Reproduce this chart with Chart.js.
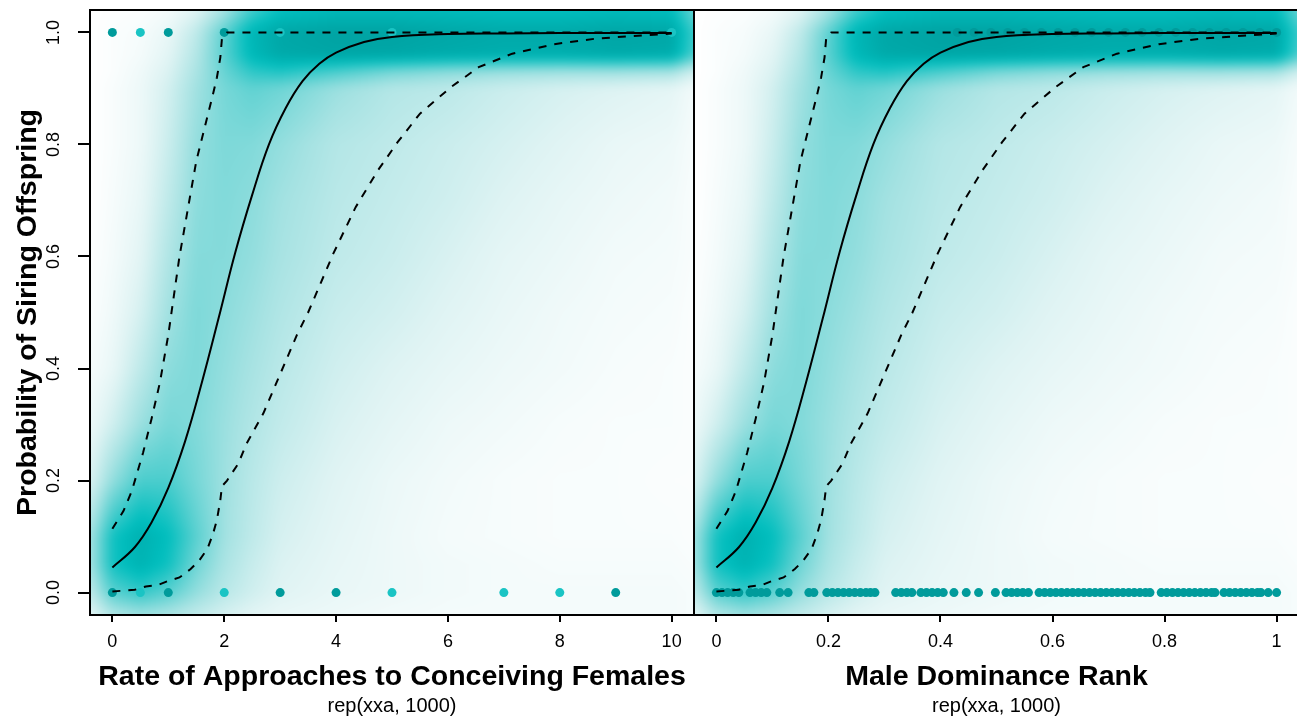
<!DOCTYPE html>
<html>
<head>
<meta charset="utf-8">
<script src="https://cdn.jsdelivr.net/npm/chart.js@4.4.0/dist/chart.umd.min.js"></script>
<style>
  html, body { margin: 0; padding: 0; background: #fff; overflow: hidden; width: 1297px; height: 717px; }
  canvas { position: absolute; top: 0; }
  #rateChart { left: 0; }
  #rankChart { left: 694px; }
</style>
</head>
<body>
<canvas id="rateChart" width="695" height="717"></canvas>
<canvas id="rankChart" width="605" height="717"></canvas>
<script>
// ---- axis ticks ----
const probTicks = [0, 0.2, 0.4, 0.6, 0.8, 1.0];
const probTickLabels = ['0.0', '0.2', '0.4', '0.6', '0.8', '1.0'];
const rateTicks = [0, 2, 4, 6, 8, 10];
const rateTickLabels = ['0', '2', '4', '6', '8', '10'];
const rankTicks = [0, 0.2, 0.4, 0.6, 0.8, 1];
const rankTickLabels = ['0', '0.2', '0.4', '0.6', '0.8', '1'];

// ---- observed males (sired = 1, not sired = 0), n = overlapping males ----
const rateSiredX = [0, 0.5, 1, 2, 3, 5, 10];
const rateSiredN = [2, 1, 2, 2, 1, 1, 1];
const rateNotSiredX = [0, 0.5, 1, 2, 3, 4, 5, 7, 8, 9];
const rateNotSiredN = [3, 1, 2, 1, 2, 2, 1, 1, 1, 2];

const rankSiredX = [0.43, 0.46, 0.49, 0.52, 0.55, 0.58, 0.61, 0.64, 0.67, 0.7, 0.73, 0.76, 0.79, 0.82, 0.85, 0.88, 0.91, 0.94, 0.97, 1.0];
const rankNotSiredX = [
  0, 0.01, 0.02, 0.03, 0.04, 0.06, 0.07, 0.08, 0.09, 0.113, 0.128, 0.165, 0.174,
  0.197, 0.207, 0.217, 0.227, 0.237, 0.247, 0.257, 0.267, 0.275, 0.283,
  0.32, 0.33, 0.34, 0.349, 0.365, 0.375, 0.385, 0.395, 0.405, 0.424, 0.446, 0.468, 0.498,
  0.517, 0.527, 0.537, 0.547, 0.557, 0.576, 0.586, 0.596, 0.606, 0.616, 0.626, 0.636, 0.646,
  0.656, 0.666, 0.676, 0.686, 0.696, 0.706, 0.716, 0.726, 0.736, 0.746, 0.756, 0.766, 0.774,
  0.794, 0.804, 0.814, 0.824, 0.834, 0.844, 0.854, 0.864, 0.874, 0.884, 0.89,
  0.906, 0.916, 0.926, 0.936, 0.946, 0.956, 0.966, 0.972, 0.985, 1.0
];

// ---- fitted curve and 95% band, approach rate ----
const rateFitX = [0, 0.4, 0.7, 1.0, 1.3, 1.6, 1.9, 2.2, 2.5, 2.8, 3.1, 3.4, 3.7, 4.0, 4.5, 5, 6, 7, 8, 9, 10];
const rateFitP = [0.045, 0.081, 0.125, 0.187, 0.27, 0.375, 0.49, 0.608, 0.71, 0.8, 0.865, 0.913, 0.944, 0.964, 0.983, 0.992, 0.997, 0.998, 0.999, 0.999, 0.999];
const rateUpperX = [0, 0.2, 0.35, 0.55, 0.7, 0.85, 1.0, 1.2, 1.35, 1.5, 1.7, 1.8, 1.87, 1.93, 1.96, 2.05, 3, 4, 5, 6, 7, 8, 9, 10];
const rateUpperP = [0.114, 0.146, 0.182, 0.25, 0.31, 0.375, 0.46, 0.6, 0.685, 0.77, 0.85, 0.89, 0.92, 0.955, 0.99, 1, 1, 1, 1, 1, 1, 1, 1, 1];
const rateLowerX = [0, 0.4, 0.6, 0.8, 1.0, 1.2, 1.4, 1.55, 1.7, 1.8, 1.87, 1.93, 1.96, 2.05, 2.25, 2.4, 2.7, 3.0, 3.3, 3.5, 3.95, 4.35, 4.75, 5.1, 5.5, 6.05, 6.55, 7.15, 7.9, 8.65, 9.55, 10];
const rateLowerP = [0.002, 0.005, 0.011, 0.013, 0.021, 0.027, 0.042, 0.057, 0.078, 0.105, 0.13, 0.165, 0.19, 0.2, 0.23, 0.266, 0.32, 0.39, 0.46, 0.5, 0.605, 0.688, 0.754, 0.804, 0.855, 0.902, 0.938, 0.962, 0.979, 0.989, 0.995, 0.998];

// ---- fitted curve and 95% band, dominance rank ----
const rankFitX = [0, 0.04, 0.07, 0.1, 0.13, 0.16, 0.19, 0.22, 0.25, 0.28, 0.31, 0.34, 0.37, 0.4, 0.45, 0.5, 0.6, 0.7, 0.8, 0.9, 1.0];
const rankFitP = [0.045, 0.081, 0.125, 0.187, 0.27, 0.375, 0.49, 0.608, 0.71, 0.8, 0.865, 0.913, 0.944, 0.964, 0.983, 0.992, 0.997, 0.998, 0.999, 0.999, 0.999];
const rankUpperX = [0, 0.02, 0.035, 0.055, 0.07, 0.085, 0.1, 0.12, 0.135, 0.15, 0.17, 0.18, 0.187, 0.193, 0.196, 0.205, 0.3, 0.4, 0.5, 0.6, 0.7, 0.8, 0.9, 1.0];
const rankUpperP = [0.114, 0.146, 0.182, 0.25, 0.31, 0.375, 0.46, 0.6, 0.685, 0.77, 0.85, 0.89, 0.92, 0.955, 0.99, 1, 1, 1, 1, 1, 1, 1, 1, 1];
const rankLowerX = [0, 0.04, 0.06, 0.08, 0.1, 0.12, 0.14, 0.155, 0.17, 0.18, 0.187, 0.193, 0.196, 0.205, 0.225, 0.24, 0.27, 0.3, 0.33, 0.35, 0.395, 0.435, 0.475, 0.51, 0.55, 0.605, 0.655, 0.715, 0.79, 0.865, 0.955, 1.0];
const rankLowerP = [0.002, 0.005, 0.011, 0.013, 0.021, 0.027, 0.042, 0.057, 0.078, 0.105, 0.13, 0.165, 0.19, 0.2, 0.23, 0.266, 0.32, 0.39, 0.46, 0.5, 0.605, 0.688, 0.754, 0.804, 0.855, 0.902, 0.938, 0.962, 0.979, 0.989, 0.995, 0.998];

// ---- posterior density (0..1), rows top to bottom ----
const densityRows = [1.04, 1.0, 0.96, 0.93, 0.9, 0.8, 0.7, 0.6, 0.5, 0.4, 0.3, 0.2, 0.1, 0.05, 0, -0.04];
const rateCols = [-0.4, 0, 0.5, 1, 1.5, 2, 2.5, 3, 4, 5, 6, 7, 8, 9, 10, 10.4];
const rankCols = [-0.04, 0, 0.05, 0.1, 0.15, 0.2, 0.25, 0.3, 0.4, 0.5, 0.6, 0.7, 0.8, 0.9, 1.0, 1.04];
const density = [
  [0.00, 0.01, 0.02, 0.05, 0.14, 0.34, 0.62, 0.78, 0.84, 0.84, 0.82, 0.80, 0.80, 0.82, 0.80, 0.52],
  [0.00, 0.02, 0.04, 0.10, 0.26, 0.55, 0.86, 0.97, 1.00, 1.00, 0.97, 0.95, 0.95, 0.98, 0.97, 0.64],
  [0.00, 0.02, 0.05, 0.13, 0.30, 0.56, 0.84, 0.95, 0.98, 0.97, 0.94, 0.92, 0.92, 0.95, 0.93, 0.60],
  [0.00, 0.02, 0.07, 0.16, 0.33, 0.52, 0.68, 0.72, 0.60, 0.48, 0.42, 0.38, 0.36, 0.36, 0.34, 0.20],
  [0.00, 0.03, 0.08, 0.19, 0.36, 0.48, 0.54, 0.50, 0.38, 0.30, 0.27, 0.22, 0.18, 0.15, 0.12, 0.06],
  [0.00, 0.03, 0.08, 0.22, 0.40, 0.46, 0.45, 0.40, 0.30, 0.26, 0.22, 0.18, 0.14, 0.10, 0.08, 0.04],
  [0.00, 0.04, 0.10, 0.26, 0.42, 0.45, 0.42, 0.36, 0.28, 0.24, 0.20, 0.15, 0.11, 0.08, 0.06, 0.03],
  [0.01, 0.05, 0.13, 0.31, 0.44, 0.44, 0.40, 0.34, 0.26, 0.22, 0.17, 0.12, 0.09, 0.06, 0.05, 0.03],
  [0.02, 0.07, 0.18, 0.36, 0.46, 0.42, 0.37, 0.31, 0.23, 0.19, 0.14, 0.10, 0.07, 0.05, 0.04, 0.02],
  [0.04, 0.10, 0.26, 0.42, 0.46, 0.40, 0.34, 0.28, 0.20, 0.15, 0.11, 0.08, 0.06, 0.04, 0.03, 0.02],
  [0.08, 0.20, 0.38, 0.48, 0.45, 0.38, 0.31, 0.25, 0.17, 0.12, 0.08, 0.06, 0.04, 0.03, 0.03, 0.02],
  [0.16, 0.40, 0.60, 0.60, 0.48, 0.37, 0.28, 0.21, 0.14, 0.09, 0.06, 0.04, 0.03, 0.03, 0.02, 0.02],
  [0.34, 0.75, 0.90, 0.80, 0.56, 0.36, 0.26, 0.18, 0.12, 0.08, 0.05, 0.04, 0.03, 0.03, 0.03, 0.02],
  [0.34, 0.75, 0.88, 0.76, 0.50, 0.33, 0.23, 0.16, 0.11, 0.08, 0.06, 0.05, 0.04, 0.04, 0.04, 0.03],
  [0.25, 0.56, 0.66, 0.56, 0.40, 0.28, 0.20, 0.14, 0.10, 0.08, 0.06, 0.05, 0.05, 0.05, 0.05, 0.04],
  [0.12, 0.30, 0.36, 0.32, 0.25, 0.18, 0.13, 0.10, 0.08, 0.06, 0.05, 0.05, 0.05, 0.05, 0.05, 0.04]
];

const FONT = '"Liberation Sans", Arial, Helvetica, sans-serif';
const lightDot = '#1ac4c4';
const darkDot = '#009b9b';
const ramp = [[0, 255, 255, 255], [0.15, 222, 243, 243], [0.35, 165, 226, 226], [0.6, 75, 205, 205], [0.8, 0, 190, 190], [1, 0, 163, 163]];

const rowsAsc = densityRows.slice().reverse();
const densityAsc = density.slice().reverse();

function locate(arr, v) {
  const n = arr.length - 1;
  if (v <= arr[0]) return [0, 0];
  if (v >= arr[n]) return [n - 1, 1];
  let i = 0;
  while (arr[i + 1] < v) i++;
  return [i, (v - arr[i]) / (arr[i + 1] - arr[i])];
}

function shade(v) {
  v = Math.max(0, Math.min(1, v));
  for (let k = 1; k < ramp.length; k++) {
    if (v <= ramp[k][0]) {
      const a = ramp[k - 1], b = ramp[k], t = (v - a[0]) / (b[0] - a[0]);
      return [a[1] + (b[1] - a[1]) * t, a[2] + (b[2] - a[2]) * t, a[3] + (b[3] - a[3]) * t];
    }
  }
  return ramp[ramp.length - 1].slice(1);
}

// smooth density image painted under the datasets, positioned by the chart's scales
const densityLayer = {
  id: 'densityLayer',
  beforeDatasetsDraw(chart, args, opts) {
    const { ctx, chartArea: a, scales } = chart;
    const m = 14;
    const w = Math.round(a.right - a.left) + 2 * m, h = Math.round(a.bottom - a.top) + 2 * m;
    const off = document.createElement('canvas');
    off.width = w; off.height = h;
    const octx = off.getContext('2d');
    const img = octx.createImageData(w, h);
    const colIdx = [];
    for (let i = 0; i < w; i++) colIdx.push(locate(opts.cols, scales.x.getValueForPixel(a.left - m + i + 0.5)));
    for (let j = 0; j < h; j++) {
      const [r, rt] = locate(rowsAsc, scales.y.getValueForPixel(a.top - m + j + 0.5));
      const r0 = densityAsc[r], r1 = densityAsc[r + 1];
      for (let i = 0; i < w; i++) {
        const [c, ct] = colIdx[i];
        const v0 = r0[c] + (r0[c + 1] - r0[c]) * ct;
        const v1 = r1[c] + (r1[c + 1] - r1[c]) * ct;
        const rgb = shade(v0 + (v1 - v0) * rt);
        const k = (j * w + i) * 4;
        img.data[k] = rgb[0]; img.data[k + 1] = rgb[1]; img.data[k + 2] = rgb[2]; img.data[k + 3] = 255;
      }
    }
    octx.putImageData(img, 0, 0);
    ctx.save();
    ctx.beginPath();
    ctx.rect(a.left, a.top, a.right - a.left, a.bottom - a.top);
    ctx.clip();
    ctx.filter = 'blur(5px)';
    ctx.drawImage(off, a.left - m, a.top - m);
    ctx.restore();
  }
};

// box, rotated y labels (R style) and the second x label line
const frame = {
  id: 'frame',
  afterDraw(chart, args, opts) {
    const { ctx, chartArea: a, scales } = chart;
    ctx.save();
    ctx.strokeStyle = '#000';
    ctx.lineWidth = 2;
    ctx.strokeRect(a.left, a.top, a.right - a.left, a.bottom - a.top);
    ctx.fillStyle = '#000';
    if (opts.yLabels) {
      ctx.font = '18px ' + FONT;
      ctx.textAlign = 'center';
      ctx.textBaseline = 'middle';
      probTicks.forEach((v, i) => {
        ctx.save();
        ctx.translate(54, scales.y.getPixelForValue(v));
        ctx.rotate(-Math.PI / 2);
        ctx.fillText(probTickLabels[i], 0, 0);
        ctx.restore();
      });
    }
    ctx.font = '20px ' + FONT;
    ctx.textAlign = 'center';
    ctx.textBaseline = 'middle';
    ctx.fillText(opts.subLabel, (a.left + a.right) / 2, 706);
    ctx.restore();
  }
};

function dots(xs, yv) { return xs.map(x => ({ x: x, y: yv })); }
function dotColors(ns) { return ns.map(n => n > 1 ? darkDot : lightDot); }
function curve(xs, ps) { return xs.map((x, i) => ({ x: x, y: ps[i] })); }

function buildDatasets(fitX, fitP, upX, upP, loX, loP, siredX, siredCol, notX, notCol) {
  const line = { showLine: true, pointRadius: 0, borderColor: '#000', borderWidth: 2, fill: false, order: 1 };
  return [
    Object.assign({ data: curve(fitX, fitP), tension: 0.4 }, line),
    Object.assign({ data: curve(upX, upP), borderDash: [8, 8], tension: 0 }, line),
    Object.assign({ data: curve(loX, loP), borderDash: [8, 8], tension: 0 }, line),
    { data: dots(siredX, 1), pointRadius: 4.5, pointBorderWidth: 0, pointBackgroundColor: siredCol, order: 2 },
    { data: dots(notX, 0), pointRadius: 4.5, pointBorderWidth: 0, pointBackgroundColor: notCol, order: 2 }
  ];
}

const tickFont = { family: FONT, size: 18 };
const titleFont = { family: FONT, size: 28.5, weight: 'bold', lineHeight: 1.2 };

function xScale(min, max, ticks, labels, title) {
  return {
    type: 'linear', min: min, max: max,
    afterBuildTicks: s => { s.ticks = ticks.map(v => ({ value: v })); },
    afterFit: s => { s.height = 102; s.paddingLeft = 0; s.paddingRight = 0; },
    ticks: { callback: (v, i) => labels[i], font: tickFont, color: '#000', padding: 9, maxRotation: 0, autoSkip: false },
    grid: { drawOnChartArea: false, drawTicks: true, tickLength: 7, color: '#000', lineWidth: 2 },
    border: { display: false },
    title: { display: true, text: title, font: titleFont, color: '#000', padding: { top: 0, bottom: 23 } }
  };
}

const common = {
  responsive: false, animation: false, devicePixelRatio: 1, events: [],
  plugins: { legend: { display: false }, tooltip: { enabled: false } }
};

new Chart(document.getElementById('rateChart'), {
  type: 'scatter',
  data: {
    datasets: buildDatasets(rateFitX, rateFitP, rateUpperX, rateUpperP, rateLowerX, rateLowerP,
      rateSiredX, dotColors(rateSiredN), rateNotSiredX, dotColors(rateNotSiredN))
  },
  options: Object.assign({}, common, {
    layout: { autoPadding: false, padding: { top: 10, right: 1, left: 0, bottom: 0 } },
    plugins: Object.assign({}, common.plugins, {
      densityLayer: { cols: rateCols },
      frame: { yLabels: true, subLabel: 'rep(xxa, 1000)' }
    }),
    scales: {
      x: xScale(-0.4, 10.4, rateTicks, rateTickLabels, 'Rate of Approaches to Conceiving Females'),
      y: {
        type: 'linear', min: -0.04, max: 1.04,
        afterBuildTicks: s => { s.ticks = probTicks.map(v => ({ value: v })); },
        afterFit: s => { s.width = 90; s.paddingTop = 0; s.paddingBottom = 0; },
        ticks: { display: false },
        grid: { drawOnChartArea: false, drawTicks: true, tickLength: 12, color: '#000', lineWidth: 2 },
        border: { display: false },
        title: { display: true, text: 'Probability of Siring Offspring', font: titleFont, color: '#000', padding: { top: 11, bottom: 0 } }
      }
    }
  }),
  plugins: [densityLayer, frame]
});

new Chart(document.getElementById('rankChart'), {
  type: 'scatter',
  data: {
    datasets: buildDatasets(rankFitX, rankFitP, rankUpperX, rankUpperP, rankLowerX, rankLowerP,
      rankSiredX, darkDot, rankNotSiredX, darkDot)
  },
  options: Object.assign({}, common, {
    layout: { autoPadding: false, padding: { top: 10, right: 0, left: 0, bottom: 0 } },
    plugins: Object.assign({}, common.plugins, {
      densityLayer: { cols: rankCols },
      frame: { yLabels: false, subLabel: 'rep(xxa, 1000)' }
    }),
    scales: {
      x: xScale(-0.04, 1.04, rankTicks, rankTickLabels, 'Male Dominance Rank'),
      y: { type: 'linear', min: -0.04, max: 1.04, display: false }
    }
  }),
  plugins: [densityLayer, frame]
});
</script>
</body>
</html>
